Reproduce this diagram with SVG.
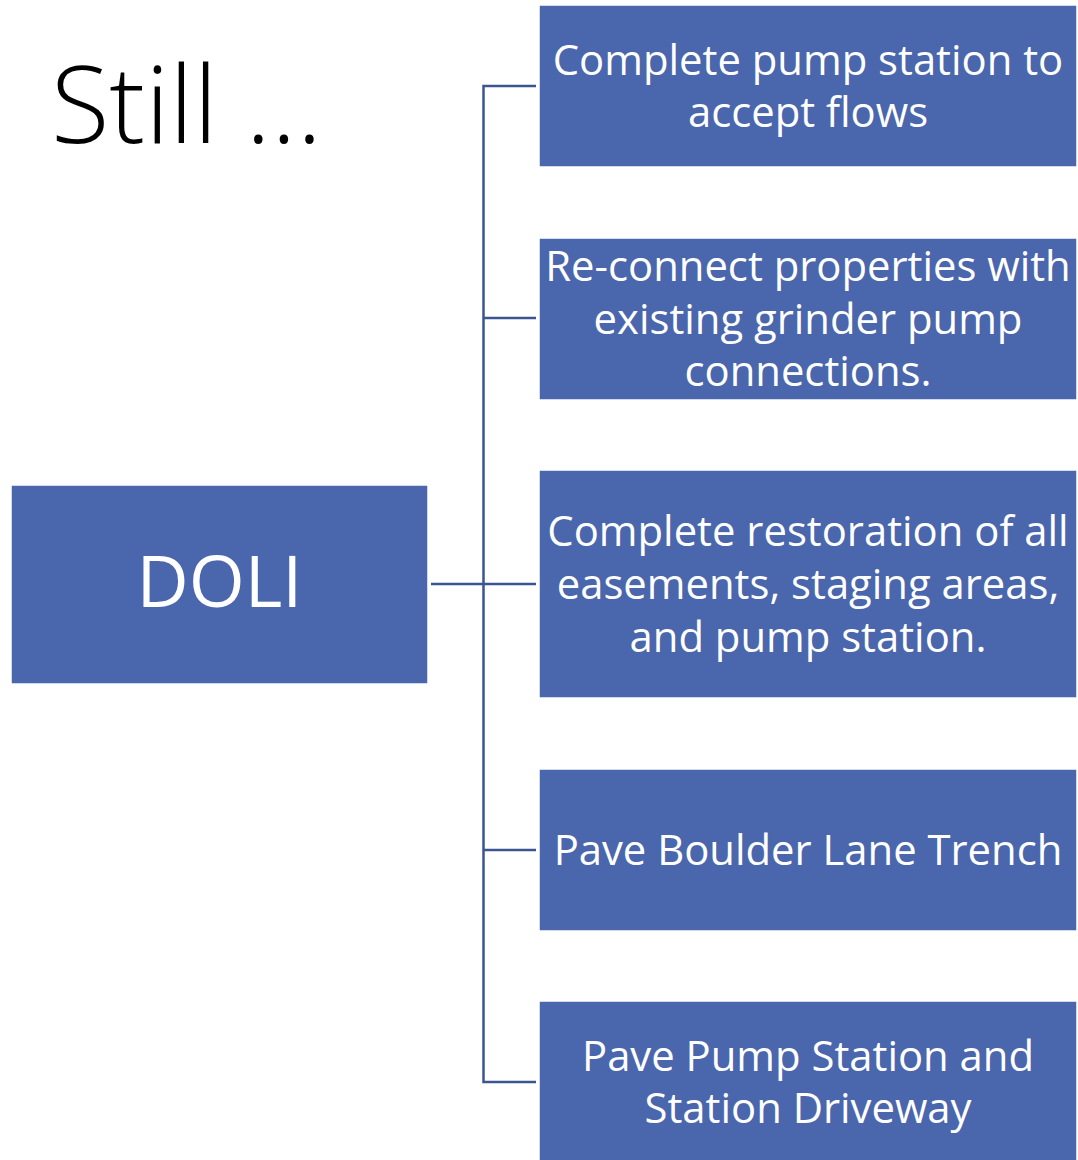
<svg xmlns="http://www.w3.org/2000/svg" width="1078" height="1160" viewBox="0 0 1078 1160">
<style>
.box{fill:#4A66AC;stroke:#FFFFFF;stroke-width:1.5}
.lbl{fill:#FFFFFF;font-family:"Open Sans","Liberation Sans",sans-serif;font-size:41.8px;text-anchor:middle}
.conn{stroke:#3B5592;stroke-width:2.5;fill:none}
</style>
<rect width="1078" height="1160" fill="#FFFFFF"/>
<text x="51" y="143" font-family="Open Sans, Liberation Sans, sans-serif" font-weight="300" font-size="107" fill="#000000">Still …</text>
<g id="connectors">
<path class="conn" d="M536,86 H483.5 V1082 H536"/>
<path class="conn" d="M483.5,318 H536"/>
<path class="conn" d="M483.5,850 H536"/>
<path class="conn" d="M431,584 H536"/>
</g>
<g id="doli">
<rect class="box" x="11" y="485" width="417" height="199"/>
<text class="lbl" x="219.5" y="607" style="font-size:72px">DOLI</text>
</g>
<g id="n1">
<rect class="box" x="539" y="5" width="538" height="162"/>
<text class="lbl" x="808" y="75">Complete pump station to</text>
<text class="lbl" x="808" y="127">accept flows</text>
</g>
<g id="n2">
<rect class="box" x="539" y="238" width="538" height="162"/>
<text class="lbl" x="808" y="281">Re-connect properties with</text>
<text class="lbl" x="808" y="334">existing grinder pump</text>
<text class="lbl" x="808" y="386">connections.</text>
</g>
<g id="n3">
<rect class="box" x="539" y="470" width="538" height="228"/>
<text class="lbl" x="808" y="546">Complete restoration of all</text>
<text class="lbl" x="808" y="599">easements, staging areas,</text>
<text class="lbl" x="808" y="652">and pump station.</text>
</g>
<g id="n4">
<rect class="box" x="539" y="769" width="538" height="162"/>
<text class="lbl" x="808" y="865">Pave Boulder Lane Trench</text>
</g>
<g id="n5">
<rect class="box" x="539" y="1001" width="538" height="162"/>
<text class="lbl" x="808" y="1071">Pave Pump Station and</text>
<text class="lbl" x="808" y="1123">Station Driveway</text>
</g>
</svg>
